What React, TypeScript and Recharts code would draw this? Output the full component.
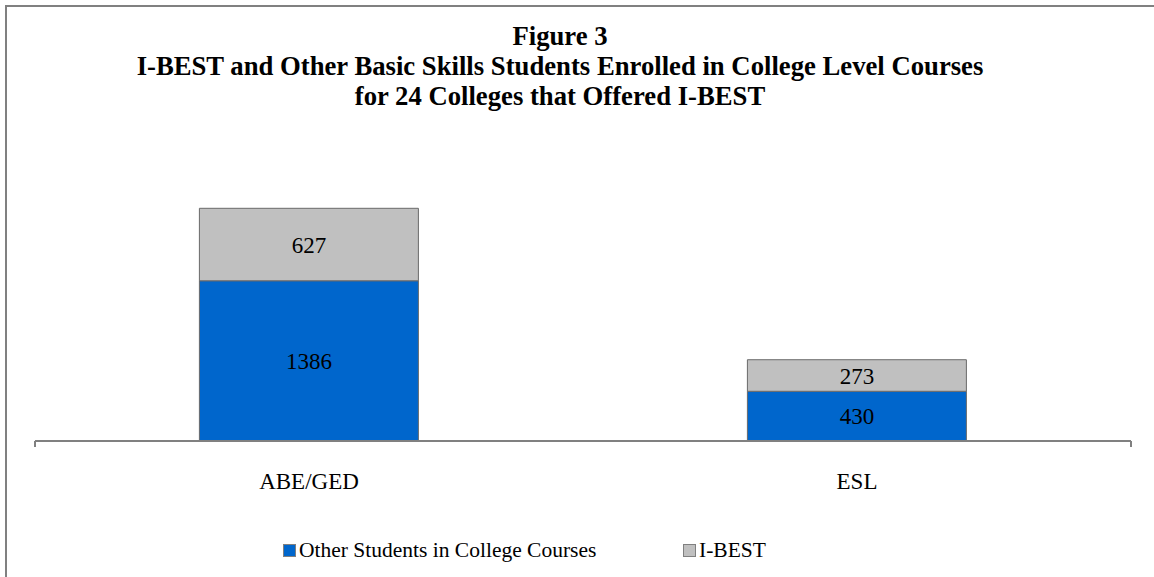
import React from 'react';
import { BarChart, Bar, XAxis, YAxis, LabelList, Legend } from 'recharts';

const categories = ['ABE/GED', 'ESL'];
const otherStudents = [1386, 430];
const ibest = [627, 273];
const seriesNames = ['Other Students in College Courses', 'I-BEST'];
const seriesColors = ['#0066CC', '#C0C0C0'];
const titleLines = [
  'Figure 3',
  'I-BEST and Other Basic Skills Students Enrolled in College Level Courses',
  'for 24 Colleges that Offered I-BEST',
];
const boundaryTicks = [0, 1, 2];

const data = categories.map((c, i) => ({ category: c, other: otherStudents[i], ibest: ibest[i] }));

const FONT = "'Liberation Serif', 'Times New Roman', serif";

const LegendContent = () => (
  <div style={{ position: 'relative', width: 1154, height: 30, fontFamily: FONT, fontSize: 21.5, color: '#000' }}>
    {seriesNames.map((n, i) => (
      <div
        key={n}
        style={{ position: 'absolute', left: i === 0 ? 283 : 683, top: 0, height: 30, display: 'flex', alignItems: 'center', whiteSpace: 'nowrap' }}
      >
        <span style={{ display: 'inline-block', width: 11, height: 11, background: seriesColors[i], border: '1px solid #808080', marginRight: 3 }} />
        <span style={{ lineHeight: '30px' }}>{n}</span>
      </div>
    ))}
  </div>
);

export default function App() {
  return (
    <div style={{ position: 'absolute', left: 0, top: 0, width: 1154, height: 577, background: '#fff', overflow: 'hidden' }}>
      <div style={{ position: 'absolute', left: 5, top: 5, width: 1200, height: 600, borderTop: '2px solid #808080', borderLeft: '2px solid #808080' }} />
      <div style={{ position: 'absolute', left: 0, top: 21, width: 1120, textAlign: 'center', fontFamily: FONT, fontWeight: 'bold', fontSize: 26.7, lineHeight: '30px', color: '#000' }}>
        {titleLines.map((t) => (
          <div key={t}>{t}</div>
        ))}
      </div>
      <div style={{ position: 'absolute', left: 0, top: 0 }}>
        <BarChart
          width={1154}
          height={577}
          data={data}
          margin={{ top: 152, right: 23, bottom: 12, left: 35 }}
          barCategoryGap="30%"
        >
          <XAxis
            xAxisId="zzz"
            dataKey="category"
            axisLine={false}
            tickLine={false}
            height={93}
            tickMargin={25}
            tick={{ fontSize: 23, fill: '#000', fontFamily: FONT }}
          />
          <XAxis
            xAxisId="aaa"
            type="number"
            domain={[0, 2]}
            ticks={boundaryTicks}
            tickFormatter={() => ''}
            interval={0}
            height={1}
            tickSize={6}
            axisLine={{ stroke: '#808080', strokeWidth: 2 }}
            tickLine={{ stroke: '#808080', strokeWidth: 2 }}
            allowDataOverflow
          />
          <YAxis hide domain={[0, 2500]} />
          <Legend verticalAlign="bottom" content={<LegendContent />} wrapperStyle={{ left: 0, width: 1154 }} />
          <Bar xAxisId="zzz" dataKey="other" name={seriesNames[0]} stackId="a" fill={seriesColors[0]} stroke="#6a6a6a" strokeWidth={1} isAnimationActive={false}>
            <LabelList dataKey="other" position="center" fill="#000" fontSize={23} fontFamily={FONT} />
          </Bar>
          <Bar xAxisId="zzz" dataKey="ibest" name={seriesNames[1]} stackId="a" fill={seriesColors[1]} stroke="#6a6a6a" strokeWidth={1} isAnimationActive={false}>
            <LabelList dataKey="ibest" position="center" fill="#000" fontSize={23} fontFamily={FONT} />
          </Bar>
        </BarChart>
      </div>
    </div>
  );
}
